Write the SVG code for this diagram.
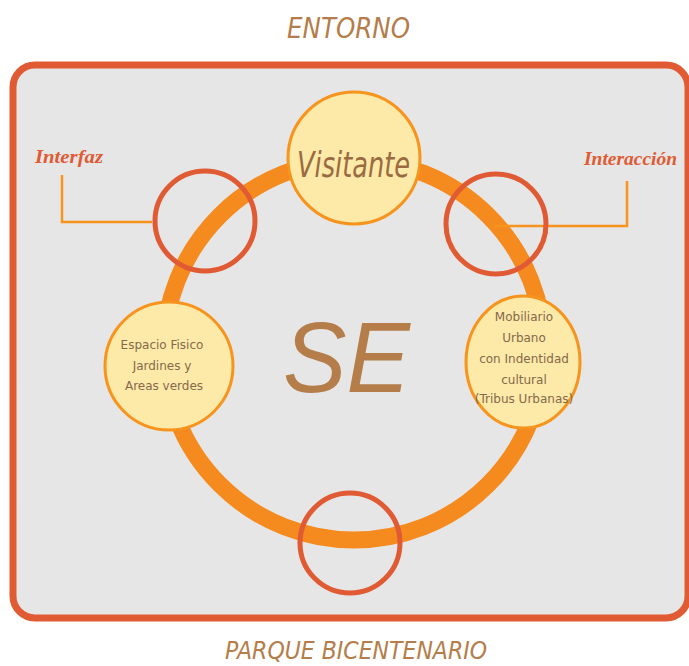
<svg xmlns="http://www.w3.org/2000/svg" width="689" height="666" viewBox="0 0 689 666">
<defs>
<style>
.title{font-family:"Liberation Sans Narrow","DejaVu Sans Condensed","Liberation Sans",sans-serif;font-style:italic;fill:#B47D4A;}
.script{font-family:"Liberation Serif",serif;font-style:italic;font-weight:bold;fill:#E05A33;}
.node{fill:#FDE9A8;stroke:#F7941D;stroke-width:3;}
.ntext{font-family:"DejaVu Sans","Liberation Sans",sans-serif;font-size:12px;fill:#85694B;text-anchor:middle;}
.redring{fill:none;stroke:#E05A33;stroke-width:5;}
.conn{fill:none;stroke:#F7941D;stroke-width:2.5;}
</style>
</defs>
<rect x="0" y="0" width="689" height="666" fill="#FFFFFF"/>
<text class="title" x="287" y="38" font-size="28" textLength="123" lengthAdjust="spacingAndGlyphs">ENTORNO</text>
<g id="frame">
<rect x="13" y="65" width="675" height="553" rx="22" ry="22" fill="#E6E6E6" stroke="#E05A33" stroke-width="7"/>
</g>
<text class="title" x="225" y="659" font-size="25" textLength="262" lengthAdjust="spacingAndGlyphs">PARQUE BICENTENARIO</text>
<g id="ring">
<circle cx="354" cy="350" r="190" fill="none" stroke="#F58A1F" stroke-width="17"/>
</g>
<text x="283" y="392" font-family="Liberation Sans, sans-serif" font-style="italic" font-size="100" fill="#B47D4A" textLength="127" lengthAdjust="spacingAndGlyphs">SE</text>
<g id="connectors">
<path class="conn" d="M62 175 V222 H152"/>
<path class="conn" d="M627 181 V226 H495"/>
</g>
<g id="interfaz">
<circle class="redring" cx="205" cy="221" r="50"/>
<text class="script" x="35" y="163" font-size="19" textLength="68" lengthAdjust="spacingAndGlyphs">Interfaz</text>
</g>
<g id="interaccion">
<circle class="redring" cx="496" cy="224" r="50"/>
<text class="script" x="584" y="165" font-size="18" textLength="93" lengthAdjust="spacingAndGlyphs">Interacción</text>
</g>
<g id="bottom-ring">
<circle class="redring" cx="350" cy="543" r="50"/>
</g>
<g id="visitante">
<circle class="node" cx="354" cy="158" r="66"/>
<text x="297" y="177" font-family="Liberation Sans Narrow, DejaVu Sans Condensed, sans-serif" font-style="italic" font-size="36" fill="#9A6B40" textLength="113" lengthAdjust="spacingAndGlyphs">Visitante</text>
</g>
<g id="espacio">
<circle class="node" cx="169" cy="366" r="64"/>
<text class="ntext" x="162" y="349">Espacio Fisico</text>
<text class="ntext" x="162" y="370">Jardines y</text>
<text class="ntext" x="164" y="390">Areas verdes</text>
</g>
<g id="mobiliario">
<ellipse class="node" cx="523" cy="362" rx="57" ry="66"/>
<text class="ntext" x="524" y="321">Mobiliario</text>
<text class="ntext" x="524" y="342">Urbano</text>
<text class="ntext" x="524" y="363">con Indentidad</text>
<text class="ntext" x="524" y="384">cultural</text>
<text class="ntext" x="524" y="403">(Tribus Urbanas)</text>
</g>
</svg>
